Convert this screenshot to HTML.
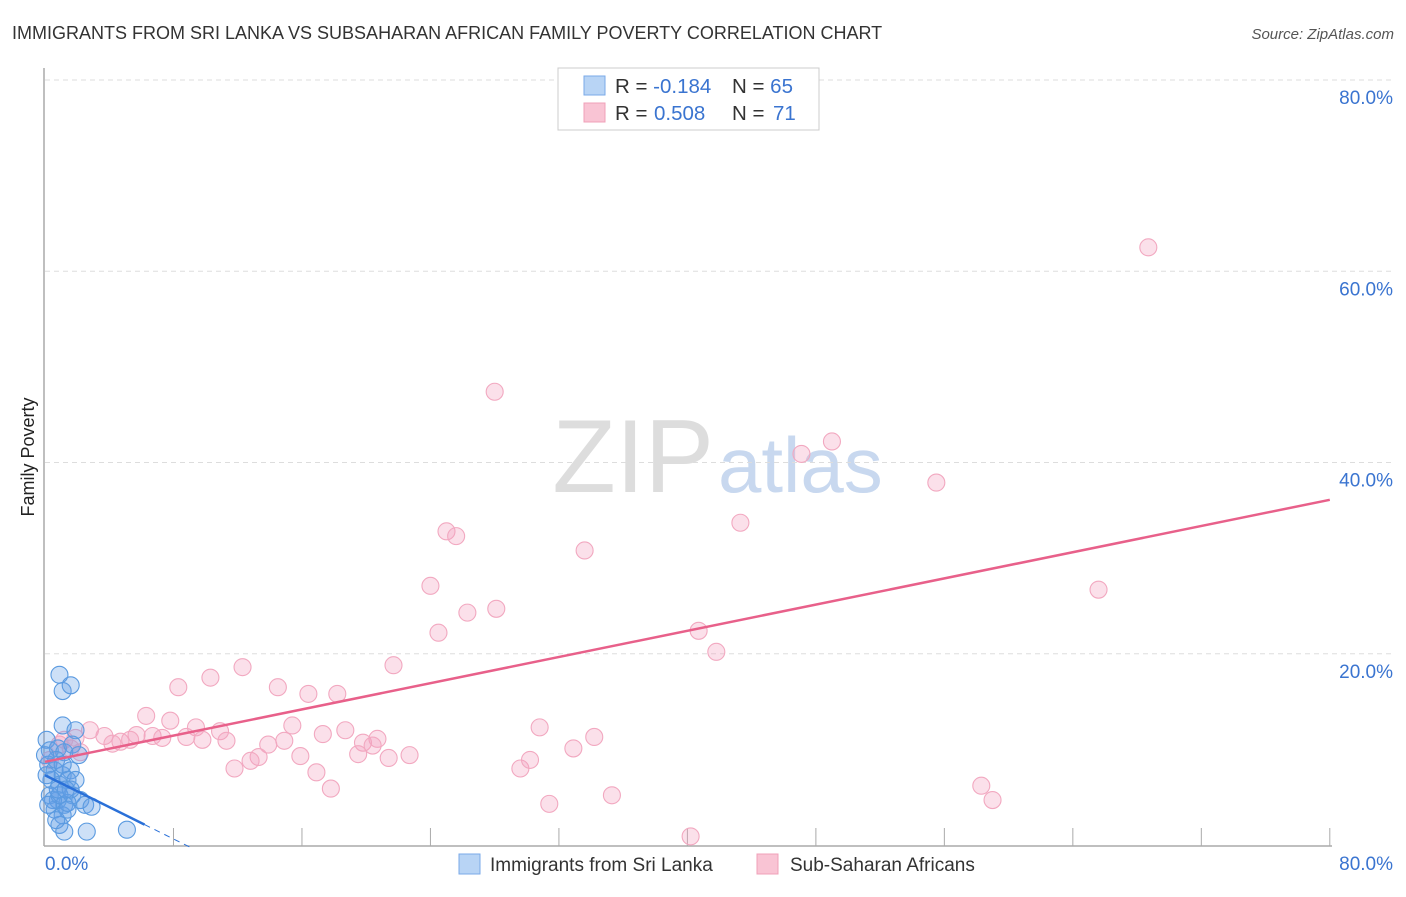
<!DOCTYPE html>
<html><head><meta charset="utf-8"><style>
body{margin:0;background:#fff;font-family:"Liberation Sans",sans-serif;}
svg text{font-family:"Liberation Sans",sans-serif;}
</style></head><body>
<svg id="chart" width="1406" height="892">
<text x="12" y="39" font-size="18" fill="#333">IMMIGRANTS FROM SRI LANKA VS SUBSAHARAN AFRICAN FAMILY POVERTY CORRELATION CHART</text>
<text x="1394" y="39" font-size="15" fill="#555" font-style="italic" text-anchor="end">Source: ZipAtlas.com</text>
<text x="34" y="457" font-size="18" fill="#222" transform="rotate(-90 34 457)" text-anchor="middle">Family Poverty</text>
<text x="714" y="492" font-size="104" fill="#ddd" text-anchor="end" font-family="Liberation Serif">ZIP</text>
<text x="718" y="492" font-size="78" fill="#c8d8ef">atlas</text>
<g id="grid"></g><g id="pts"></g><g id="lines"></g>
<g>
<rect x="558" y="68" width="261" height="62" fill="#fff" stroke="#ccc"/>
<rect x="584" y="76" width="21" height="19" fill="#b8d4f5" stroke="#7aaae8"/>
<rect x="584" y="103" width="21" height="19" fill="#f9c4d4" stroke="#f0a0b8"/>
<text x="615" y="93" font-size="20.5" fill="#333">R = <tspan fill="#3a74d0">-0.184</tspan><tspan x="732">N = </tspan><tspan fill="#3a74d0">65</tspan></text>
<text x="615" y="120" font-size="20.5" fill="#333">R = <tspan fill="#3a74d0" x="654">0.508</tspan><tspan x="732">N = </tspan><tspan fill="#3a74d0" x="773">71</tspan></text>
</g>
<g>
<rect x="459" y="854" width="21" height="20" fill="#b8d4f5" stroke="#7aaae8"/>
<text x="490" y="871" font-size="19" fill="#333">Immigrants from Sri Lanka</text>
<rect x="757" y="854" width="21" height="20" fill="#f9c4d4" stroke="#f0a0b8"/>
<text x="790" y="871" font-size="19" fill="#333">Sub-Saharan Africans</text>
</g>
</svg>
<script>
const yTicks=[20,40,60,80];
const xTickLabels=["0.0%","80.0%"];
const pinkX=[68.7,28.0,49.0,47.1,55.5,43.3,25.0,25.6,33.6,24.0,65.6,26.3,28.1,24.5,40.7,41.8,12.3,21.7,10.3,8.3,14.5,16.4,18.2,6.3,7.8,9.4,10.9,15.4,30.8,18.7,17.3,34.2,20.7,19.8,20.4,13.9,14.9,32.9,2.8,3.7,4.7,5.7,6.7,7.3,8.8,9.8,11.3,0.9,1.6,2.2,13.3,15.9,22.7,21.4,19.5,11.8,12.8,16.9,29.6,30.2,17.8,58.3,59.0,31.4,35.3,40.2,0.3,1.2,1.9,4.2,5.3];
const pinkY=[62.5,47.4,42.2,40.9,37.9,33.7,32.8,32.3,30.8,27.1,26.7,24.3,24.7,22.2,22.4,20.2,18.6,18.8,17.5,16.5,16.5,15.8,15.8,13.5,13.0,12.3,11.9,12.5,12.3,12.0,11.6,11.3,11.1,10.7,10.4,10.5,10.9,10.1,12.0,11.4,10.8,11.5,11.4,11.2,11.3,11.0,10.9,10.5,10.1,9.7,9.2,9.3,9.4,9.1,9.5,8.0,8.8,7.6,8.0,8.9,5.9,6.2,4.7,4.3,5.2,0.9,8.9,11.0,11.2,10.6,11.0];
const blueX=[0.9,1.1,1.6,1.1,1.9,0.1,0.3,0.8,1.2,1.7,2.1,0.2,0.6,1.1,1.6,0.4,0.9,1.4,0.3,0.8,1.2,1.7,2.2,0.6,1.1,1.4,2.5,2.9,0.9,1.2,2.6,5.1,1.9,0.5,0.7,1.1,0.1,0.9,1.4,0.0,0.8,1.6,0.7,1.3,0.2];
const blueY=[17.8,16.1,16.7,12.5,12.0,11.0,9.9,10.1,9.7,10.5,9.4,8.4,7.8,7.3,7.8,6.8,6.3,6.8,5.2,4.7,4.2,5.2,4.7,3.7,3.1,4.4,4.2,4.0,2.1,1.4,1.4,1.6,6.8,4.7,8.9,8.4,7.3,5.2,3.7,9.4,5.8,5.8,2.6,5.8,4.2];
const pinkTrend=[8.7,36.1];
const blueTrend=[7.3,-0.2];
const X=v=>45+v*16.06, Y=v=>845-v*9.5625;
const NS="http://www.w3.org/2000/svg";
function mk(t,a,p){const e=document.createElementNS(NS,t);for(const k in a)e.setAttribute(k,a[k]);p.appendChild(e);return e;}
const grid=document.getElementById('grid');
let ax=mk('line',{x1:44,y1:68,x2:44,y2:846,stroke:'#aaa','stroke-width':1.5},grid);


let bx=mk('line',{x1:44,y1:846,x2:1332,y2:846,stroke:'#aaa','stroke-width':1.5},grid);


yTicks.forEach(t=>{
 const g=mk('line',{x1:45,x2:1394,y1:Y(t),y2:Y(t),stroke:'#ddd','stroke-dasharray':'5,4'},grid);
 
 
 const l=mk('text',{x:1393,y:Y(t)+24,'font-size':19,fill:'#3a74d0','text-anchor':'end'},grid);
 l.textContent=t.toFixed(1)+'%';
 
 
});
for(let i=1;i<=10;i++){
 const tk=mk('line',{x1:X(i*8),x2:X(i*8),y1:828,y2:846,stroke:'#aaa'},grid);
 
 
}
const xl0=mk('text',{x:45,y:870,'font-size':19,fill:'#3a74d0'},grid);xl0.textContent=xTickLabels[0];


const xl1=mk('text',{x:1393,y:870,'font-size':19,fill:'#3a74d0','text-anchor':'end'},grid);xl1.textContent=xTickLabels[1];


const pts=document.getElementById('pts');
pinkX.forEach((v,i)=>{const c=mk('circle',{cx:X(v),cy:Y(pinkY[i]),r:8.5,fill:'rgba(244,160,190,0.32)',stroke:'#f2a8c0','stroke-width':1.1},pts);
 
 });
blueX.forEach((v,i)=>{const c=mk('circle',{cx:X(v),cy:Y(blueY[i]),r:8.5,fill:'rgba(100,160,230,0.32)',stroke:'#5a9ae0','stroke-width':1.1},pts);
 
 });
const lines=document.getElementById('lines');
const pl=mk('line',{x1:X(0),y1:Y(pinkTrend[0]),x2:X(80),y2:Y(pinkTrend[1]),stroke:'#e8608a','stroke-width':2.5},lines);


const bs=k=>blueTrend[0]+(blueTrend[1]-blueTrend[0])*k/9;
const b1=mk('line',{x1:X(0),y1:Y(bs(0)),x2:X(6.2),y2:Y(bs(6.2)),stroke:'#2a70d8','stroke-width':2.5},lines);


const b2=mk('line',{x1:X(6.2),y1:Y(bs(6.2)),x2:X(9),y2:Y(bs(9)),stroke:'#2a70d8','stroke-width':1,'stroke-dasharray':'6,5'},lines);


</script>
</body></html>
